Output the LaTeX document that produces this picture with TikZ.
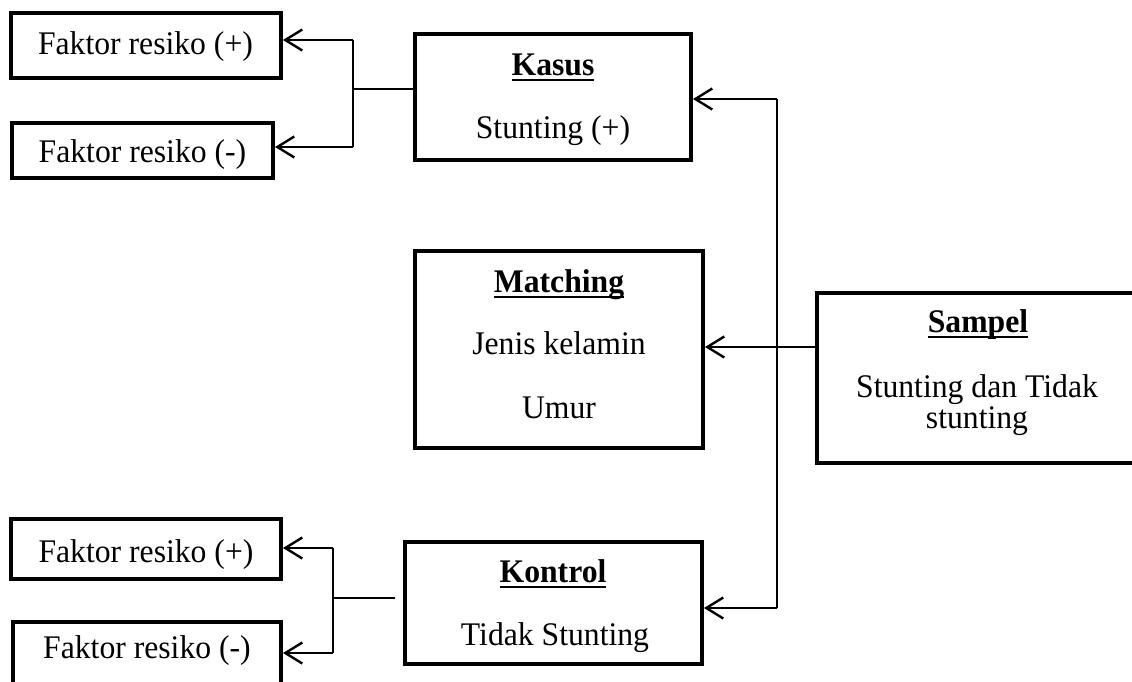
\documentclass[tikz,border=0pt]{standalone}
\usepackage{fontspec}
\setmainfont{Liberation Serif}[FakeStretch=0.96]
\usetikzlibrary{arrows.meta}
\newcommand\myul[1]{\setbox0\hbox{#1}\rlap{\rule[-6pt]{\wd0}{2.4pt}}\box0}
\tikzset{
  box/.style={draw, line width=4pt, rectangle, inner sep=0pt},
  txt/.style={anchor=base, inner sep=0pt, font=\fontsize{33}{36}\selectfont},
  ttl/.style={anchor=base, inner sep=0pt, font=\fontsize{33}{36}\selectfont\bfseries},
  conn/.style={line width=2pt},
  arr/.style={line width=2pt, -{Straight Barb[length=17pt,width=21pt,line width=2.4pt]}}
}
\begin{document}
\begin{tikzpicture}[x=1pt,y=-1pt]
\useasboundingbox (0,0) rectangle (1132,681);
% boxes
\node[box, minimum width=270pt, minimum height=65pt] (ftp) at (146,45.5) {};
\node[box, minimum width=261pt, minimum height=55pt] (ftm) at (142.5,150.5) {};
\node[box, minimum width=276pt, minimum height=126pt] (kasus) at (553,97) {};
\node[box, minimum width=288pt, minimum height=197pt] (matching) at (559,349.5) {};
\node[box, minimum width=321pt, minimum height=170pt] (sampel) at (977.5,378) {};
\node[box, minimum width=270pt, minimum height=60pt] (fbp) at (146,549) {};
\node[box, minimum width=268pt, minimum height=66pt] (fbm) at (147,655) {};
\node[box, minimum width=297pt, minimum height=122pt] (kontrol) at (553.5,603) {};
% texts
\node[txt] (tftp) at (145.5,54) {Faktor resiko (+)};
\node[txt] (tftm) at (142.5,162) {Faktor resiko (-)};
\node[ttl] (tkasus) at (553,75) {\myul{Kasus}};
\node[txt] (tstunt) at (553,138) {Stunting (+)};
\node[ttl] (tmatch) at (559,292) {\myul{Matching}};
\node[txt] (tjenis) at (559,354) {Jenis kelamin};
\node[txt] (tumur) at (559,418) {Umur};
\node[ttl] (tsampel) at (978,332) {\myul{Sampel}};
\node[txt] (tsd1) at (977,397) {Stunting dan Tidak};
\node[txt] (tsd2) at (977,428) {stunting};
\node[txt] (tfbp) at (146,562) {Faktor resiko (+)};
\node[txt] (tfbm) at (147,658) {Faktor resiko (-)};
\node[ttl] (tkontrol) at (553,582) {\myul{Kontrol}};
\node[txt] (ttidak) at (555,645) {Tidak Stunting};
% connector coordinates
\coordinate (jt) at (353,89);
\coordinate (jt1) at (353,40);
\coordinate (jt2) at (353,147);
\coordinate (jb) at (333,598);
\coordinate (jbe) at (395,598);
\coordinate (jb1) at (333,548);
\coordinate (jb2) at (333,653);
\coordinate (r1) at (777,99);
\coordinate (r2) at (777,608);
% top-left
\draw[conn] (kasus.west |- jt) -- (jt);
\draw[conn] (jt2) -- (jt1);
\draw[arr] (jt1) -- (ftp.east |- jt1);
\draw[arr] (jt2) -- (ftm.east |- jt2);
% bottom-left
\draw[conn] (jbe) -- (jb);
\draw[conn] (jb1) -- (jb2);
\draw[arr] (jb1) -- (fbp.east |- jb1);
\draw[arr] (jb2) -- (fbm.east |- jb2);
% right
\draw[conn] (r1) -- (r2);
\draw[arr] (r1) -- (kasus.east |- r1);
\draw[arr] (r2) -- (kontrol.east |- r2);
\draw[arr] (sampel.west |- 0,347) -- (matching.east |- 0,347);
\end{tikzpicture}
\end{document}
